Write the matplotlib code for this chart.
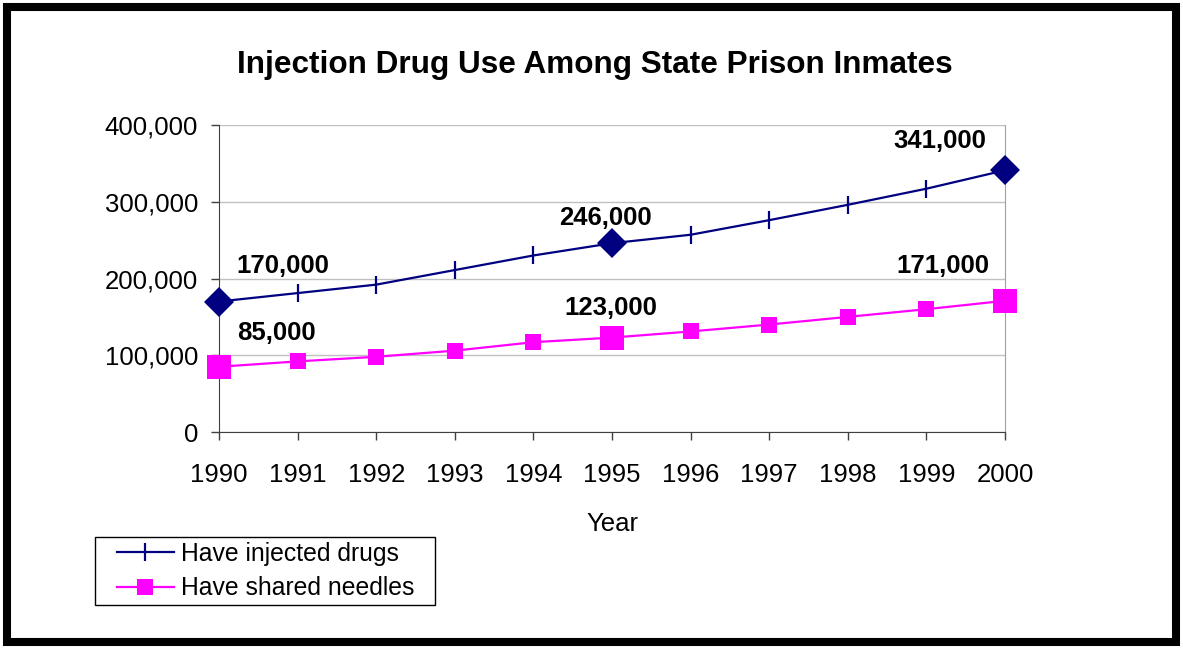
import matplotlib.pyplot as plt
from matplotlib.patches import Rectangle
from matplotlib.ticker import FuncFormatter

plt.rcParams['font.family'] = ['Liberation Sans', 'DejaVu Sans']

# data
years = [1990, 1991, 1992, 1993, 1994, 1995, 1996, 1997, 1998, 1999, 2000]
injected = [170000, 181000, 192000, 211000, 230000, 246000, 257000, 276000, 296000, 317000, 341000]
shared = [85000, 92000, 98000, 106000, 117000, 123000, 131000, 140000, 150000, 160000, 171000]
labelled_years = [1990, 1995, 2000]
title = 'Injection Drug Use Among State Prison Inmates'

navy = '#000080'
magenta = '#FF00FF'

W, H = 1183, 649
fig = plt.figure(figsize=(W / 100, H / 100), dpi=100)
ax = fig.add_axes([219 / W, 1 - 432 / H, (1005 - 219) / W, (432 - 125) / H])

# the two series
ax.plot(years, injected, color=navy, lw=1.6, marker='|', ms=13, mew=1.6,
        label='Have injected drugs', zorder=3)
ax.plot(years, shared, color=magenta, lw=1.6, marker='s', ms=11, mew=0,
        label='Have shared needles', zorder=3)

# highlighted points + their labels
offsets_inj = {1990: (64, 36), 1995: (-7, 25), 2000: (-65, 29)}
offsets_sh = {1990: (57, 34), 1995: (-1, 30), 2000: (-62, 35)}
for y in labelled_years:
    i = years.index(y)
    ax.plot(y, injected[i], marker='D', color=navy, ms=15, mew=0, zorder=4, clip_on=False)
    ax.plot(y, shared[i], marker='s', color=magenta, ms=17, mew=0, zorder=4, clip_on=False)
    ax.annotate(f'{injected[i]:,}', (y, injected[i]), xytext=offsets_inj[y],
                textcoords='offset pixels', ha='center', va='center',
                fontsize=18.5, fontweight='bold')
    ax.annotate(f'{shared[i]:,}', (y, shared[i]), xytext=offsets_sh[y],
                textcoords='offset pixels', ha='center', va='center',
                fontsize=18.5, fontweight='bold')

ax.set_xlim(1990, 2000)
ax.set_ylim(0, 400000)
ax.set_xticks(years)
ax.set_yticks([0, 100000, 200000, 300000, 400000])
ax.yaxis.set_major_formatter(FuncFormatter(lambda v, p: f'{int(v):,}'))
ax.tick_params(axis='both', labelsize=18.5, length=6, width=1, color='#404040')
ax.tick_params(axis='x', pad=16)
ax.tick_params(axis='y', pad=9)
ax.grid(axis='y', color='#C0C0C0', lw=1)
ax.set_axisbelow(True)

ax.spines['top'].set_visible(False)
ax.spines['left'].set_color('#404040')
ax.spines['bottom'].set_color('#404040')
ax.spines['right'].set_color('#A0A0A0')

ax.set_xlabel('Year', fontsize=18.5, labelpad=18)
fig.text(595 / W, 1 - 65 / H, title, ha='center', va='center',
         fontsize=22.7, fontweight='bold')

# legend without its own frame, the box is drawn separately (wider padding)
leg = fig.legend(loc='upper left', bbox_to_anchor=(117 / W, 1 - 542 / H),
                 fontsize=17.8, frameon=False, borderpad=0,
                 handlelength=2.3, handletextpad=0.3, labelspacing=0.42,
                 borderaxespad=0)
fig.add_artist(Rectangle((95 / W, 1 - 605 / H), 340 / W, 68 / H,
                         transform=fig.transFigure, fill=False,
                         edgecolor='black', lw=1))

# thick outer frame
fig.add_artist(Rectangle((7 / W, 7 / H), 1169 / W, 635 / H,
                         transform=fig.transFigure, fill=False,
                         edgecolor='black', lw=5.8))

fig.savefig('out.png', dpi=100)
